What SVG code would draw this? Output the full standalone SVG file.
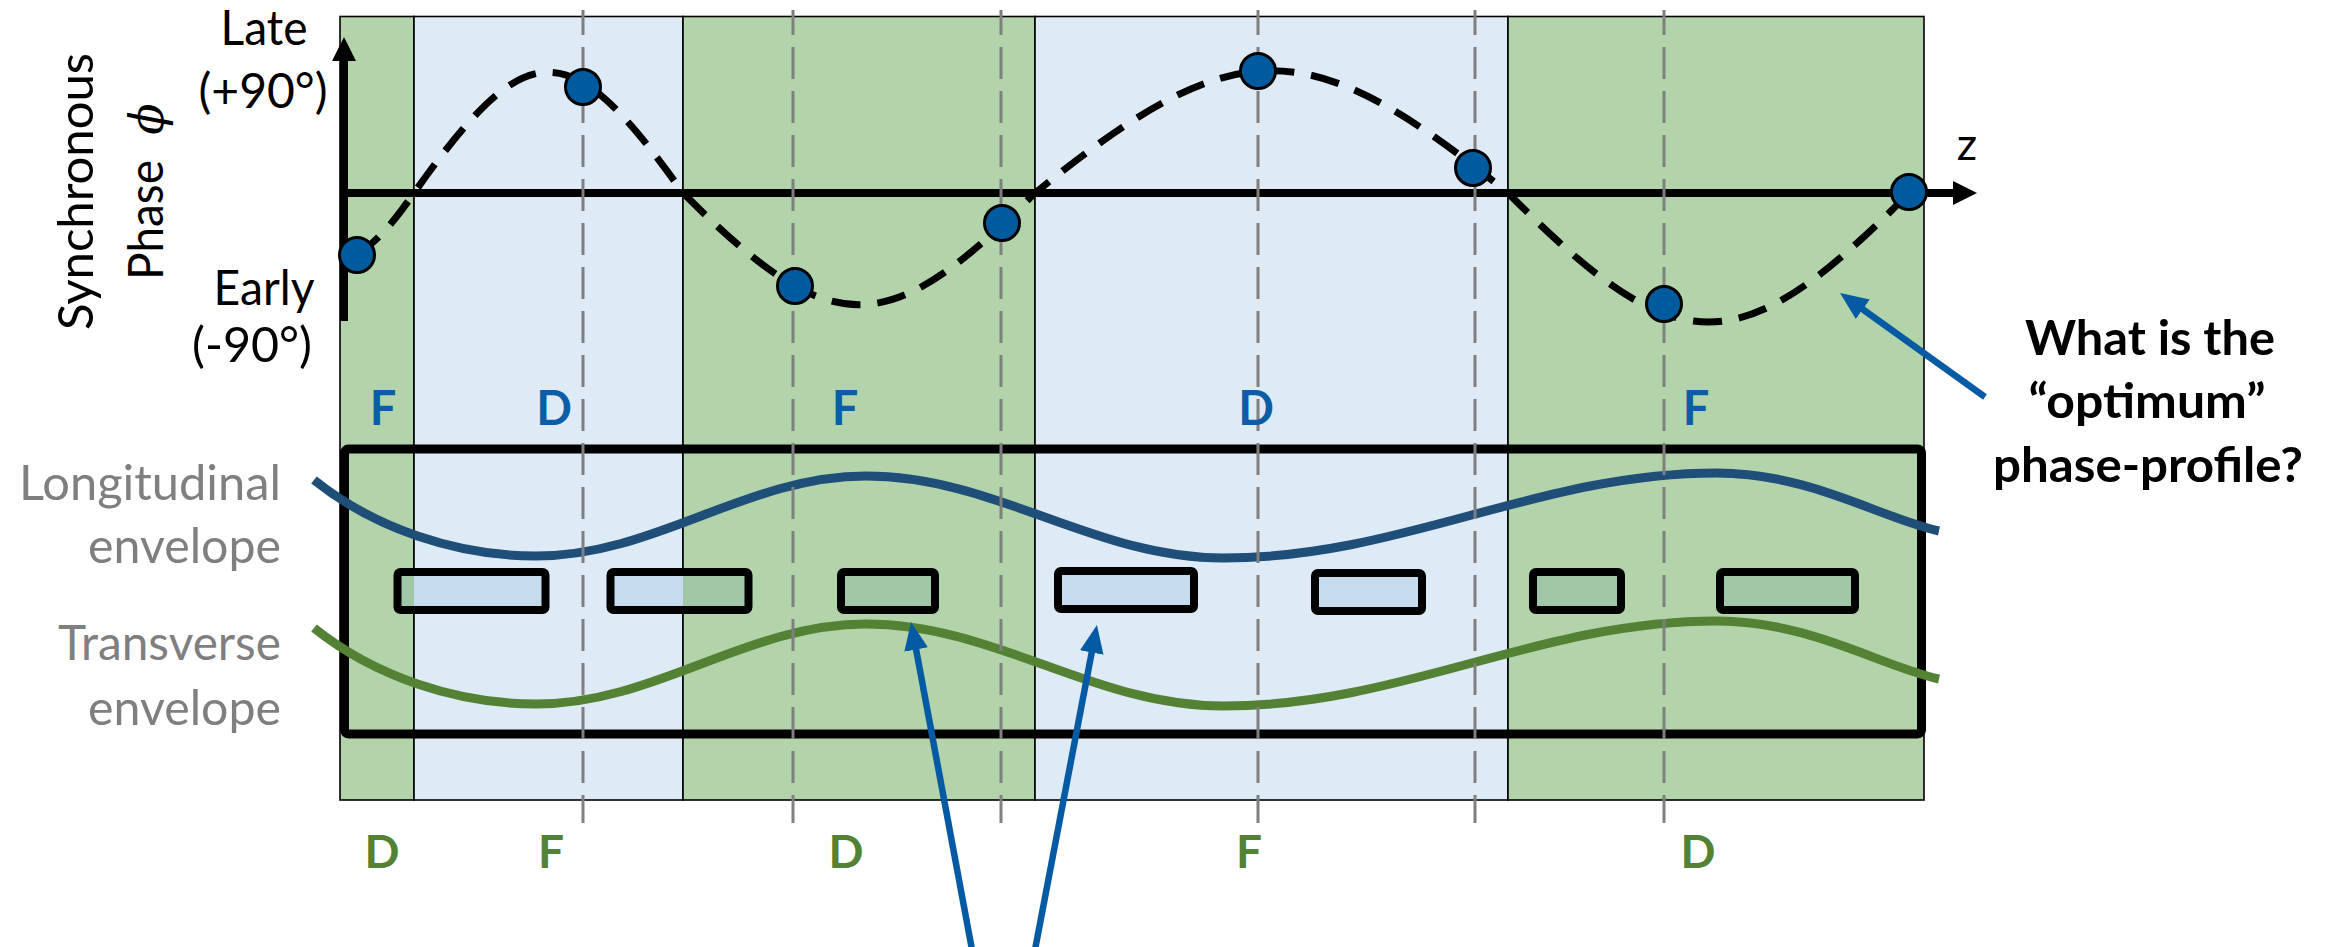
<svg xmlns="http://www.w3.org/2000/svg" width="2333" height="947" viewBox="0 0 2333 947">
<style>
.t{font-family:Lato,"Liberation Sans",sans-serif}
.blk{font-size:48px;fill:#000}
.gry{font-size:48px;fill:#7f7f7f}
.bq{font-size:48px;font-weight:bold;fill:#000}
.tb{font-size:47px;font-weight:bold;fill:#0b5ea6}
.tg{font-size:46px;font-weight:bold;fill:#548235}
.gb{fill:#b3d4aa;stroke:#000;stroke-width:1.6}
.bb{fill:#deeaf6;stroke:#000;stroke-width:1.6}
.vd{stroke:#7f7f7f;stroke-width:3;stroke-dasharray:32 12;stroke-dashoffset:7;fill:none}
.cav{fill:none;stroke:#000;stroke-width:8}
.cb{fill:#c6dbed}
.cg{fill:#a0c8a8}
.pt{fill:#005a9e;stroke:#000;stroke-width:3}
.arr{stroke:#055ba3;stroke-width:6.5;fill:none;marker-end:url(#ba)}
</style>
<defs>
<marker id="ax" markerUnits="userSpaceOnUse" markerWidth="24" markerHeight="24" refX="0" refY="12" orient="auto" viewBox="0 0 24 24">
<path d="M0,0 L24,12 L0,24 Z" fill="#000"/>
</marker>
<marker id="ba" markerUnits="userSpaceOnUse" markerWidth="28" markerHeight="24" refX="16" refY="12" orient="auto" viewBox="0 0 28 24">
<path d="M0,0 L28,12 L0,24 Z" fill="#055ba3"/>
</marker>
</defs>
<rect width="2333" height="947" fill="#fff"/>

<g id="bands">
<rect class="gb" x="340" y="16.5" width="74" height="783.5"/>
<rect class="bb" x="414" y="16.5" width="269" height="783.5"/>
<rect class="gb" x="683" y="16.5" width="352" height="783.5"/>
<rect class="bb" x="1035" y="16.5" width="473" height="783.5"/>
<rect class="gb" x="1508" y="16.5" width="416" height="783.5"/>
</g>

<g id="axes">
<line x1="344" y1="321" x2="344" y2="61" stroke="#000" stroke-width="8" marker-end="url(#ax)"/>
<line x1="340" y1="193" x2="1953" y2="193" stroke="#000" stroke-width="8" marker-end="url(#ax)"/>
</g>

<g id="envelope-box">
<rect x="344.5" y="449" width="1577" height="285" rx="4" fill="none" stroke="#000" stroke-width="9"/>
</g>

<g id="cavities">
<g id="cav1"><rect class="cb" x="397.5" y="572" width="148" height="38"/><rect class="cg" x="397.5" y="572" width="16.5" height="38"/><rect class="cav" x="397.5" y="572" width="148" height="38" rx="3"/></g>
<g id="cav2"><rect class="cb" x="610.5" y="572" width="138" height="38"/><rect class="cg" x="683" y="572" width="65.5" height="38"/><rect class="cav" x="610.5" y="572" width="138" height="38" rx="3"/></g>
<g id="cav3"><rect class="cg" x="841" y="572" width="94" height="38"/><rect class="cav" x="841" y="572" width="94" height="38" rx="3"/></g>
<g id="cav4"><rect class="cb" x="1058" y="571" width="136" height="38"/><rect class="cav" x="1058" y="571" width="136" height="38" rx="3"/></g>
<g id="cav5"><rect class="cb" x="1315" y="573" width="107" height="38"/><rect class="cav" x="1315" y="573" width="107" height="38" rx="3"/></g>
<g id="cav6"><rect class="cg" x="1533" y="572" width="88" height="38"/><rect class="cav" x="1533" y="572" width="88" height="38" rx="3"/></g>
<g id="cav7"><rect class="cg" x="1720" y="572" width="135" height="38"/><rect class="cav" x="1720" y="572" width="135" height="38" rx="3"/></g>
</g>

<g id="envelopes" fill="none" stroke-width="9">
<path id="long-env" stroke="#1f4e79" d="M314,480 C374,528 456,556 536,556 C656,556 746,476 866,476 C996,476 1093,558 1223,558 C1403,558 1537,473 1717,473 C1810,473 1880,518 1939,531"/>
<path id="trans-env" stroke="#548235" transform="translate(0,148)" d="M314,480 C374,528 456,556 536,556 C656,556 746,476 866,476 C996,476 1093,558 1223,558 C1403,558 1537,473 1717,473 C1810,473 1880,518 1939,531"/>
</g>

<g id="phase-curve">
<path d="M356,255 C380,241 399,214 414,193 C528,32 569,32 683,193 C832,342 886,342 1035,193 C1236,30 1307,30 1508,193 C1678,365 1739,365 1909,193" fill="none" stroke="#000" stroke-width="7" stroke-dasharray="29 17"/>
</g>

<g id="gridlines">
<line class="vd" x1="583" y1="10" x2="583" y2="823"/>
<line class="vd" x1="793" y1="10" x2="793" y2="823"/>
<line class="vd" x1="1001" y1="10" x2="1001" y2="823"/>
<line class="vd" x1="1258" y1="10" x2="1258" y2="823"/>
<line class="vd" x1="1475" y1="10" x2="1475" y2="823"/>
<line class="vd" x1="1664" y1="10" x2="1664" y2="823"/>
</g>

<g id="points">
<circle class="pt" cx="357" cy="255" r="17.5"/>
<circle class="pt" cx="583" cy="87" r="17.5"/>
<circle class="pt" cx="795" cy="286" r="17.5"/>
<circle class="pt" cx="1002" cy="223" r="17.5"/>
<circle class="pt" cx="1258" cy="71" r="17.5"/>
<circle class="pt" cx="1473" cy="168" r="17.5"/>
<circle class="pt" cx="1664" cy="304" r="17.5"/>
<circle class="pt" cx="1909" cy="192" r="17.5"/>
</g>

<g id="connectors">
<line class="arr" x1="1985" y1="397" x2="1849.8" y2="300"/>
<line class="arr" x1="973" y1="955" x2="913.2" y2="633.8"/>
<line class="arr" x1="1034" y1="955" x2="1094.7" y2="636.8"/>
</g>

<g id="axis-labels" class="t">
<text class="blk" x="264" y="45" text-anchor="middle" textLength="87" lengthAdjust="spacingAndGlyphs">Late</text>
<text class="blk" x="263" y="108" text-anchor="middle" textLength="129" lengthAdjust="spacingAndGlyphs">(+90°)</text>
<text class="blk" x="264" y="305" text-anchor="middle" textLength="101" lengthAdjust="spacingAndGlyphs">Early</text>
<text class="blk" x="252" y="362" text-anchor="middle" textLength="120" lengthAdjust="spacingAndGlyphs">(-90°)</text>
<text class="blk" transform="translate(93,191.5) rotate(-90)" text-anchor="middle" textLength="277" lengthAdjust="spacingAndGlyphs">Synchronous</text>
<text class="blk" transform="translate(163,280) rotate(-90)" textLength="120" lengthAdjust="spacingAndGlyphs">Phase</text>
<text transform="translate(163,119) rotate(-90)" text-anchor="middle" style="font-family:'DejaVu Serif',serif;font-style:italic;font-size:46px;fill:#000">ϕ</text>
<text class="blk" x="1967" y="160" text-anchor="middle" style="font-size:45px">z</text>
</g>

<g id="top-labels" class="t">
<text class="tb" x="383" y="425" text-anchor="middle">F</text>
<text class="tb" x="554" y="425" text-anchor="middle">D</text>
<text class="tb" x="845" y="425" text-anchor="middle">F</text>
<text class="tb" x="1256" y="425" text-anchor="middle">D</text>
<text class="tb" x="1696" y="425" text-anchor="middle">F</text>
</g>

<g id="bottom-labels" class="t">
<text class="tg" x="382" y="868" text-anchor="middle">D</text>
<text class="tg" x="551" y="868" text-anchor="middle">F</text>
<text class="tg" x="846" y="868" text-anchor="middle">D</text>
<text class="tg" x="1249" y="868" text-anchor="middle">F</text>
<text class="tg" x="1698" y="868" text-anchor="middle">D</text>
</g>

<g id="envelope-labels" class="t">
<text class="gry" x="281" y="500" text-anchor="end" textLength="262" lengthAdjust="spacingAndGlyphs">Longitudinal</text>
<text class="gry" x="281" y="563" text-anchor="end" textLength="193" lengthAdjust="spacingAndGlyphs">envelope</text>
<text class="gry" x="281" y="660" text-anchor="end" textLength="223" lengthAdjust="spacingAndGlyphs">Transverse</text>
<text class="gry" x="281" y="725" text-anchor="end" textLength="193" lengthAdjust="spacingAndGlyphs">envelope</text>
</g>

<g id="question" class="t">
<text class="bq" x="2150" y="355" text-anchor="middle" textLength="250" lengthAdjust="spacingAndGlyphs">What is the</text>
<text class="bq" x="2147" y="418" text-anchor="middle" textLength="237" lengthAdjust="spacingAndGlyphs">“optimum”</text>
<text class="bq" x="2148" y="482" text-anchor="middle" textLength="310" lengthAdjust="spacingAndGlyphs">phase-profile?</text>
</g>
</svg>
